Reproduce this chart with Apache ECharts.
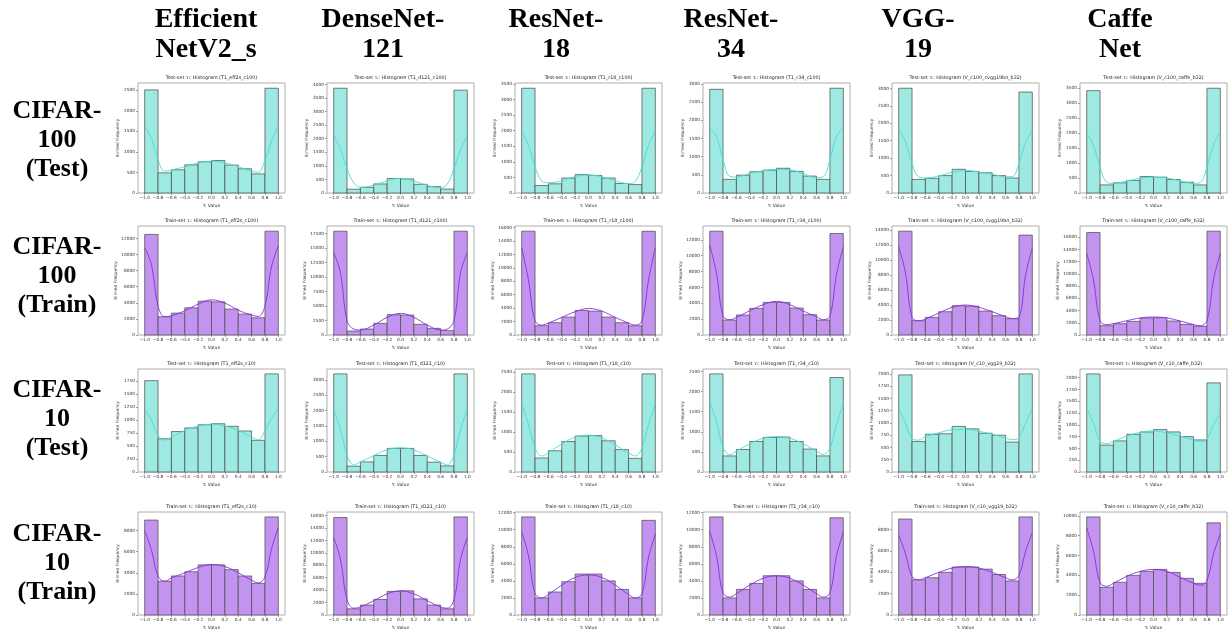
<!DOCTYPE html>
<html>
<head>
<meta charset="utf-8">
<title>tau histograms</title>
<script src="https://cdn.jsdelivr.net/npm/echarts@6/dist/echarts.min.js"></script>
<style>
html, body { margin: 0; padding: 0; background: #fff; }
#main { width: 1232px; height: 632px; }
</style>
</head>
<body>
<div id="main"></div>
<script>
// headers
var colNames = ['Efficient\nNetV2_s', 'DenseNet-\n121', 'ResNet-\n18', 'ResNet-\n34', 'VGG-\n19', 'Caffe\nNet'];
var rowNames = ['CIFAR-\n100\n(Test)', 'CIFAR-\n100\n(Train)', 'CIFAR-\n10\n(Test)', 'CIFAR-\n10\n(Train)'];
var c100Ids = ['T1_eff2s_c100', 'T1_d121_c100', 'T1_r18_c100', 'T1_r34_c100', 'V_c100_cvgg19bn_b32', 'V_c100_caffe_b32'];
var c10Ids = ['T1_eff2s_c10', 'T1_d121_c10', 'T1_r18_c10', 'T1_r34_c10', 'V_c10_vgg19_b32', 'V_c10_caffe_b32'];

// bin edges = x tick labels
var binEdges = [-1.0, -0.8, -0.6, -0.4, -0.2, 0.0, 0.2, 0.4, 0.6, 0.8, 1.0];
var kdeX = [-1.0, -0.9, -0.8, -0.7, -0.6, -0.4, -0.2, 0.0, 0.2, 0.4, 0.6, 0.7, 0.8, 0.9, 1.0];

// CIFAR-100 test
var c100TestBars = [
  [2510, 490, 565, 685, 760, 790, 680, 590, 465, 2550],
  [3860, 140, 210, 335, 535, 520, 320, 235, 145, 3790],
  [3360, 240, 295, 480, 590, 565, 480, 305, 270, 3360],
  [2850, 375, 490, 585, 630, 680, 595, 465, 375, 2880],
  [3005, 390, 420, 500, 680, 620, 580, 500, 430, 2895],
  [3420, 270, 340, 420, 550, 530, 450, 360, 270, 3500]
];
var c100TestKde = [
  [1630, 1330, 810, 530, 560, 640, 730, 775, 735, 640, 530, 505, 800, 1270, 1640],
  [2140, 1600, 890, 380, 210, 290, 450, 540, 440, 280, 190, 330, 890, 1600, 2140],
  [1980, 1540, 840, 390, 330, 390, 530, 575, 520, 390, 300, 370, 840, 1540, 1980],
  [1790, 1560, 910, 460, 440, 540, 610, 650, 640, 530, 420, 450, 910, 1560, 1800],
  [1840, 1480, 850, 460, 430, 490, 590, 650, 600, 540, 470, 470, 850, 1450, 1800],
  [2000, 1600, 870, 360, 320, 400, 490, 530, 500, 410, 320, 350, 870, 1620, 2030]
];
var c100TestStep = [500, 500, 500, 500, 500, 500];

// CIFAR-100 train
var c100TrainBars = [
  [12500, 2270, 2720, 3380, 4200, 4120, 3220, 2600, 2140, 12900],
  [17900, 690, 1030, 2010, 3500, 3440, 1840, 1150, 750, 17900],
  [15460, 1380, 1830, 2670, 3650, 3560, 2670, 1830, 1380, 15450],
  [13090, 1890, 2520, 3360, 4110, 4110, 3400, 2560, 1890, 12800],
  [13820, 1900, 2350, 3100, 3900, 3850, 3190, 2570, 2170, 13300],
  [16760, 1520, 1850, 2230, 2780, 2830, 2290, 1740, 1420, 16980]
];
var c100TrainKde = [
  [10850, 8780, 3630, 2270, 2390, 3010, 3830, 4370, 3960, 3090, 2470, 2310, 3630, 8580, 11050],
  [14230, 10790, 2470, 1030, 860, 1720, 3040, 3730, 3040, 1720, 860, 1030, 2470, 10790, 14230],
  [12990, 8300, 2120, 1480, 1780, 2620, 3460, 3950, 3560, 2620, 1780, 1480, 2120, 8300, 12990],
  [11330, 7890, 2430, 1930, 2220, 3060, 3820, 4240, 3820, 3020, 2300, 1930, 2430, 7700, 11100],
  [11740, 8330, 2350, 1900, 2130, 2920, 3680, 3990, 3680, 3100, 2440, 2200, 2400, 8000, 11600],
  [13330, 9140, 2340, 1690, 1850, 2340, 2780, 2940, 2780, 2290, 1690, 1520, 2340, 9140, 13330]
];
var c100TrainStep = [2000, 2500, 2000, 2000, 2000, 2000];

// CIFAR-10 test
var c10TestBars = [
  [1760, 640, 780, 850, 910, 930, 880, 790, 610, 1890],
  [3200, 190, 330, 540, 770, 770, 540, 320, 200, 3200],
  [2450, 350, 530, 760, 900, 910, 780, 560, 340, 2450],
  [2440, 400, 560, 760, 860, 870, 760, 570, 400, 2350],
  [1980, 620, 770, 780, 930, 880, 790, 750, 610, 2000],
  [2080, 570, 660, 800, 850, 900, 850, 750, 680, 1890]
];
var c10TestKde = [
  [1200, 1000, 710, 615, 670, 800, 885, 920, 885, 800, 670, 620, 800, 1040, 1230],
  [2050, 1400, 560, 230, 330, 530, 730, 790, 720, 520, 320, 230, 560, 1400, 2050],
  [1700, 1200, 600, 400, 480, 700, 870, 920, 850, 680, 470, 400, 600, 1200, 1700],
  [1750, 1250, 620, 430, 520, 700, 840, 880, 840, 700, 520, 440, 600, 1200, 1700],
  [1300, 1000, 680, 650, 720, 800, 860, 870, 830, 770, 690, 660, 700, 1000, 1300],
  [1350, 1050, 650, 600, 650, 760, 840, 870, 830, 760, 680, 650, 700, 1000, 1250]
];
var c10TestStep = [250, 500, 500, 500, 250, 250];

// CIFAR-10 train
var c10TrainBars = [
  [9000, 3200, 3700, 4100, 4750, 4750, 4300, 3700, 3000, 9300],
  [15700, 1000, 1600, 2500, 3800, 3900, 2600, 1600, 1000, 15800],
  [11500, 2000, 2700, 3900, 4800, 4800, 4000, 3000, 2000, 11100],
  [11500, 2000, 3000, 3700, 4600, 4600, 4000, 3000, 2000, 11400],
  [9000, 3300, 3500, 4000, 4500, 4500, 4300, 3800, 3200, 9200],
  [9900, 2800, 3300, 4000, 4400, 4600, 4300, 3700, 3200, 9300]
];
var c10TrainKde = [
  [8000, 6200, 3700, 3200, 3500, 4000, 4500, 4800, 4600, 4000, 3300, 3050, 3600, 6300, 8300],
  [12500, 9000, 2500, 1100, 1300, 2300, 3400, 3900, 3400, 2300, 1300, 1100, 2500, 9000, 12500],
  [9800, 7000, 2500, 2000, 2400, 3500, 4400, 4700, 4400, 3500, 2400, 2000, 2500, 6800, 9500],
  [9800, 7000, 2600, 2100, 2500, 3500, 4300, 4600, 4300, 3500, 2500, 2100, 2600, 7000, 9700],
  [7500, 5800, 3600, 3300, 3500, 4000, 4400, 4550, 4400, 4000, 3500, 3300, 3700, 6000, 7700],
  [8800, 6500, 3300, 2900, 3200, 3900, 4400, 4600, 4400, 3800, 3200, 3000, 3500, 6200, 8200]
];
var c10TrainStep = [2000, 2000, 2000, 2000, 2000, 2000];

var panelRows = [
  { bars: c100TestBars, kde: c100TestKde, step: c100TestStep, ids: c100Ids, set: 'Test' },
  { bars: c100TrainBars, kde: c100TrainKde, step: c100TrainStep, ids: c100Ids, set: 'Train' },
  { bars: c10TestBars, kde: c10TestKde, step: c10TestStep, ids: c10Ids, set: 'Test' },
  { bars: c10TrainBars, kde: c10TrainKde, step: c10TrainStep, ids: c10Ids, set: 'Train' }
];

// layout
var colLeft = [138, 327, 515, 703, 892, 1080];
var plotW = 147;
var rowTop = [83, 226, 369, 512];
var rowH = [110, 109, 103, 103];
var headerX = [206, 383, 556, 731, 918, 1120];
var rowLabelY = [97, 233, 376, 520];

var fills = { Test: '#9ee9e1', Train: '#c294ef' };
var lines = { Test: '#40e0d0', Train: '#8a2be2' };
var smallFont = 'DejaVu Sans';

var grid = [], xAxis = [], yAxis = [], series = [], graphic = [];

function minusFmt(v) {
  return v.toFixed(1).replace('-', '\u2212');
}
function plainFmt(v) {
  return String(Math.round(v));
}

panelRows.forEach(function (p, r) {
  for (var c = 0; c < 6; c++) {
    var i = grid.length;
    var bars = p.bars[c];
    var kde = p.kde[c];
    var step = p.step[c];
    var yMax = Math.max.apply(null, bars) * 1.05;
    var yTicks = [];
    for (var t = 0; t <= yMax; t += step) yTicks.push(t);
    var labLen = String(yTicks[yTicks.length - 1]).length;

    grid.push({
      left: colLeft[c], top: rowTop[r], width: plotW, height: rowH[r],
      show: true, borderColor: '#9a9a9a', borderWidth: 0.8, backgroundColor: 'transparent'
    });
    xAxis.push({
      gridIndex: i, type: 'value', min: -1.1, max: 1.1, position: 'bottom',
      name: '\u03c4\u1d62 Value', nameLocation: 'middle', nameGap: 10,
      nameTextStyle: { fontSize: 4.5, fontFamily: smallFont, color: '#333' },
      axisLine: { show: false, onZero: false },
      axisTick: { show: true, length: 2, customValues: binEdges, lineStyle: { color: '#666', width: 0.6 } },
      axisLabel: { customValues: binEdges, formatter: minusFmt, fontSize: 4.3, fontFamily: smallFont, color: '#333', margin: 3 },
      splitLine: { show: false }
    });
    yAxis.push({
      gridIndex: i, type: 'value', min: 0, max: yMax, position: 'left',
      name: 'Binned Frequency', nameLocation: 'middle', nameGap: 5 + labLen * 2.5,
      nameTextStyle: { fontSize: 4.3, fontFamily: smallFont, color: '#333' },
      axisLine: { show: false, onZero: false },
      axisTick: { show: true, length: 2, customValues: yTicks, lineStyle: { color: '#666', width: 0.6 } },
      axisLabel: { customValues: yTicks, formatter: plainFmt, fontSize: 4.3, fontFamily: smallFont, color: '#333', margin: 3 },
      splitLine: { show: false }
    });

    var barData = bars.map(function (v, k) { return [binEdges[k], binEdges[k + 1], v]; });
    series.push({
      type: 'custom', xAxisIndex: i, yAxisIndex: i,
      data: barData, encode: { x: [0, 1], y: 2 },
      renderItem: (function (fill) {
        return function (params, api) {
          var p0 = api.coord([api.value(0), api.value(2)]);
          var p1 = api.coord([api.value(1), 0]);
          return {
            type: 'rect',
            shape: { x: p0[0], y: p0[1], width: p1[0] - p0[0], height: p1[1] - p0[1] },
            style: { fill: fill, stroke: '#474747', lineWidth: 0.7 }
          };
        };
      })(fills[p.set]),
      z: 2
    });
    series.push({
      type: 'line', xAxisIndex: i, yAxisIndex: i,
      data: kdeX.map(function (x, k) { return [x, kde[k]]; }),
      smooth: 0.4, symbol: 'none', showSymbol: false,
      lineStyle: { color: lines[p.set], width: 0.9 },
      z: 3, silent: true
    });

    graphic.push({
      type: 'text', x: colLeft[c] + plotW / 2, y: rowTop[r] - 8,
      style: {
        text: p.set + '-set \u03c4\u1d62: Histogram (' + p.ids[c] + ')',
        font: '4.8px "DejaVu Sans"', fill: '#222', textAlign: 'center'
      }
    });
  }
});

colNames.forEach(function (name, c) {
  graphic.push({
    type: 'text', x: headerX[c], y: 5,
    style: {
      text: name, textAlign: 'center', fill: '#000',
      font: 'bold 28px "Liberation Serif"', lineHeight: 30
    }
  });
});
rowNames.forEach(function (name, r) {
  graphic.push({
    type: 'text', x: 57, y: rowLabelY[r],
    style: {
      text: name, textAlign: 'center', fill: '#000',
      font: 'bold 26px "Liberation Serif"', lineHeight: 29
    }
  });
});

var chart = echarts.init(document.getElementById('main'));
chart.setOption({
  animation: false,
  backgroundColor: '#fff',
  grid: grid,
  xAxis: xAxis,
  yAxis: yAxis,
  series: series,
  graphic: graphic
});
</script>
</body>
</html>
